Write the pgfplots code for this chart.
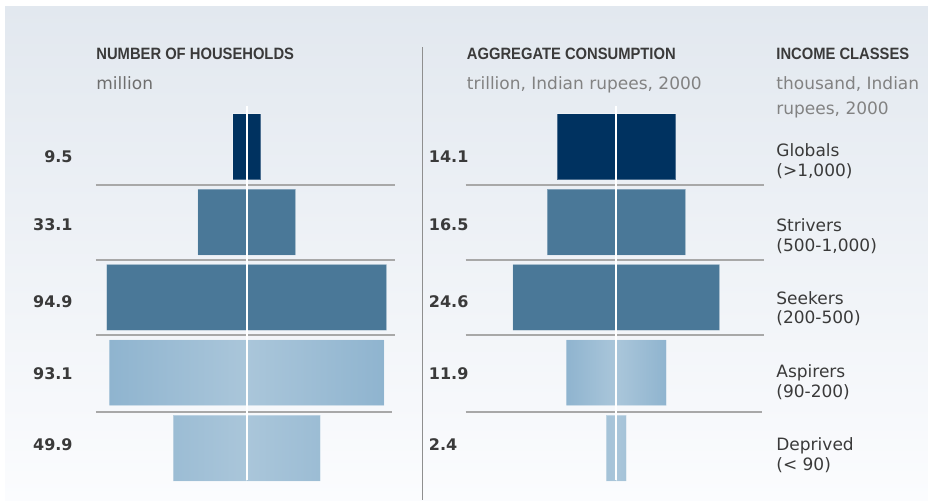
\documentclass[border=0pt]{standalone}
\usepackage{pgfplots}
\usepackage{pgfplotstable}
\pgfplotsset{compat=1.18}
\usepackage{fontspec}
\setmainfont{DejaVu Sans}
\newfontfamily\hdr{Liberation Sans}[FakeStretch=0.9]
\definecolor{navy}{RGB}{0,50,96}
\definecolor{steel}{RGB}{74,120,152}
\definecolor{lightout}{RGB}{143,180,207}
\definecolor{lightin}{RGB}{170,198,218}
\definecolor{sepgray}{RGB}{168,168,168}
\definecolor{txtdark}{RGB}{58,58,58}
\definecolor{txtgray}{RGB}{110,110,110}
\definecolor{txtlight}{RGB}{130,130,130}
\definecolor{bgtop}{RGB}{226,232,239}
\definecolor{bgbot}{RGB}{251,252,254}

\pgfplotstableread{
row hh cons
0 9.5 14.1
1 33.1 16.5
2 94.9 24.6
3 93.1 11.9
4 49.9 2.4
}\data

\pgfplotsset{
  halfbars/.style={
    scale only axis, height=188.25pt,
    ymin=-0.5, ymax=4.5, y dir=reverse,
    axis line style={draw=none}, xtick=\empty, ytick=\empty,
    clip=false, xbar, bar width=0.876, bar shift=0pt,
  },
  bstyle/.style={draw=white, draw opacity=0.3, line width=0.5pt},
}

\begin{document}
\begin{tikzpicture}[x=0.5pt, y=-0.5pt]
\fill[white] (0,0) rectangle (928,500);
\path[use as bounding box] (0,0) rectangle (928,500);
\shade[top color=bgtop, bottom color=bgbot] (5,6) rectangle (928,500);

% headers
\node[anchor=base west, inner sep=0, font=\hdr\bfseries\fontsize{8.2}{10}\selectfont, text=txtdark] at (96,59) {NUMBER OF HOUSEHOLDS};
\node[anchor=base west, inner sep=0, font=\fontsize{8.5}{10}\selectfont, text=txtgray] at (96,89) {million};
\node[anchor=base west, inner sep=0, font=\hdr\bfseries\fontsize{8.2}{10}\selectfont, text=txtdark] at (466.5,59) {AGGREGATE CONSUMPTION};
\node[anchor=base west, inner sep=0, font=\fontsize{8.5}{10}\selectfont, text=txtlight] at (466.5,89) {trillion, Indian rupees, 2000};
\node[anchor=base west, inner sep=0, font=\hdr\bfseries\fontsize{8.2}{10}\selectfont, text=txtdark] at (776,59) {INCOME CLASSES};
\node[anchor=base west, inner sep=0, font=\fontsize{8.5}{10}\selectfont, text=txtlight] at (776,89) {thousand, Indian};
\node[anchor=base west, inner sep=0, font=\fontsize{8.5}{10}\selectfont, text=txtlight] at (776,114) {rupees, 2000};

% divider
\draw[sepgray!85!black, line width=0.6pt] (422.7,47) -- (422.7,500);

% value labels
\foreach \yy/\a/\b in {162.5/9.5/14.1, 230.5/33.1/16.5, 307.5/94.9/24.6, 379/93.1/11.9, 450.5/49.9/2.4}{
  \node[anchor=base east, inner sep=0, font=\bfseries\fontsize{8}{10}\selectfont, text=txtdark] at (73,\yy) {\a};
  \node[anchor=base west, inner sep=0, font=\bfseries\fontsize{8}{10}\selectfont, text=txtdark] at (428.5,\yy) {\b};
}

% class labels
\foreach \yy/\a/\b in {156.5/Globals/(>1{,}000), 231.5/Strivers/(500-1{,}000), 304/Seekers/(200-500), 377.5/Aspirers/(90-200), 450.5/Deprived/(< 90)}{
  \node[anchor=base west, inner sep=0, font=\fontsize{8.5}{10}\selectfont, text=txtdark] at (776,\yy) {\a};
  \node[anchor=base west, inner sep=0, font=\fontsize{8.5}{10}\selectfont, text=txtdark] at (776,\yy+19.5) {\b};
}

% left panel: households
\begin{axis}[halfbars, at={(48pt,-242.85pt)}, anchor=south west, width=149.5pt,
  xmin=-51.08, xmax=50.27]
\addplot[fill=navy, bstyle, restrict y to domain=-0.1:0.1] table[x expr=\thisrow{hh}/2, y=row]{\data};
\addplot[fill=navy, bstyle, restrict y to domain=-0.1:0.1] table[x expr=-\thisrow{hh}/2, y=row]{\data};
\addplot[fill=steel, bstyle, restrict y to domain=0.9:2.1] table[x expr=\thisrow{hh}/2, y=row]{\data};
\addplot[fill=steel, bstyle, restrict y to domain=0.9:2.1] table[x expr=-\thisrow{hh}/2, y=row]{\data};
\addplot[left color=lightin, right color=lightout, bstyle, restrict y to domain=2.9:4.1] table[x expr=\thisrow{hh}/2, y=row]{\data};
\addplot[left color=lightout, right color=lightin, bstyle, restrict y to domain=2.9:4.1] table[x expr=-\thisrow{hh}/2, y=row]{\data};
\foreach \s in {0.5,1.505,2.501}{
  \edef\tmp{\noexpand\draw[sepgray, line width=1pt] (axis cs:-51.08,\s) -- (axis cs:50.27,\s);}\tmp
}
\draw[sepgray, line width=1pt] (axis cs:-51.08,3.52) -- (axis cs:49.2,3.52);
\draw[white, line width=1pt] (axis cs:0,-0.54) -- (axis cs:0,4.43);
\end{axis}

% right panel: consumption
\begin{axis}[halfbars, at={(232.85pt,-242.85pt)}, anchor=south west, width=149.15pt,
  xmin=-17.93, xmax=17.58]
\addplot[fill=navy, bstyle, restrict y to domain=-0.1:0.1] table[x expr=\thisrow{cons}/2, y=row]{\data};
\addplot[fill=navy, bstyle, restrict y to domain=-0.1:0.1] table[x expr=-\thisrow{cons}/2, y=row]{\data};
\addplot[fill=steel, bstyle, restrict y to domain=0.9:2.1] table[x expr=\thisrow{cons}/2, y=row]{\data};
\addplot[fill=steel, bstyle, restrict y to domain=0.9:2.1] table[x expr=-\thisrow{cons}/2, y=row]{\data};
\addplot[left color=lightin, right color=lightout, bstyle, restrict y to domain=2.9:4.1] table[x expr=\thisrow{cons}/2, y=row]{\data};
\addplot[left color=lightout, right color=lightin, bstyle, restrict y to domain=2.9:4.1] table[x expr=-\thisrow{cons}/2, y=row]{\data};
\foreach \s in {0.5,1.505,2.501}{
  \edef\tmp{\noexpand\draw[sepgray, line width=1pt] (axis cs:-17.93,\s) -- (axis cs:17.58,\s);}\tmp
}
\draw[sepgray, line width=1pt] (axis cs:-17.93,3.52) -- (axis cs:17.3,3.52);
\draw[white, line width=1pt] (axis cs:0,-0.54) -- (axis cs:0,4.43);
\end{axis}
\end{tikzpicture}
\end{document}
